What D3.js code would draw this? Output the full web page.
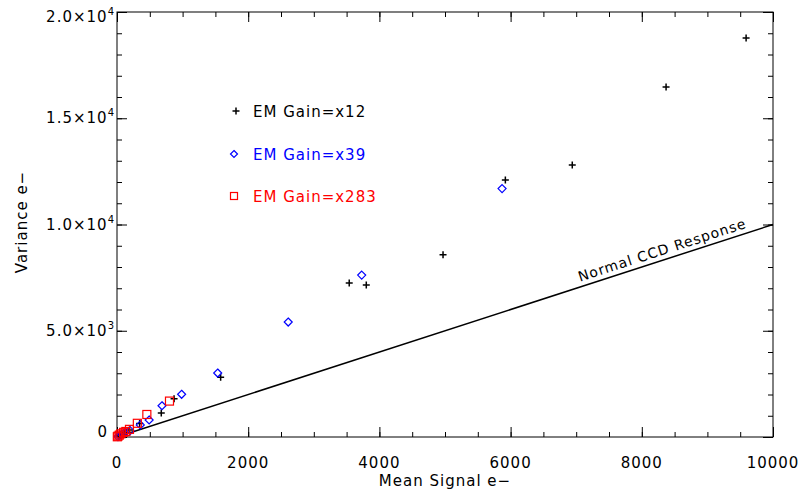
<!DOCTYPE html>
<html>
<head>
<meta charset="utf-8">
<script src="https://cdn.jsdelivr.net/npm/d3@7"></script>
<style>
  body { margin: 0; background: #fff; }
  svg { font-family: "DejaVu Sans", sans-serif; }
</style>
</head>
<body>
<div id="chart"></div>
<script>
// mean signal / variance
const gain12 = [
  [9590, 18780], [8370, 16470], [6940, 12800], [5920, 12100], [4970, 8580],
  [3800, 7150], [3540, 7250], [1580, 2810], [870, 1800], [675, 1130],
  [345, 630], [190, 330], [110, 200], [60, 110], [25, 50]
];
const gain39 = [
  [5870, 11690], [3730, 7620], [2610, 5410], [1535, 3010], [985, 2010],
  [686, 1470], [490, 800], [355, 570], [200, 300], [120, 210],
  [70, 130], [35, 60], [15, 20]
];
const gain283 = [
  [800, 1690], [455, 1060], [310, 645], [190, 360], [135, 260],
  [100, 220], [60, 150], [35, 90], [15, 40], [5, 10]
];
const legendLabels = ["EM Gain=x12", "EM Gain=x39", "EM Gain=x283"];
const xTicks = [0, 2000, 4000, 6000, 8000, 10000];
const yTicks = [0, 5000, 10000, 15000, 20000];
const yTickText = ["0", "5.0×10|3", "1.0×10|4", "1.5×10|4", "2.0×10|4"];
const ccdLine = [[0, 0], [10000, 10000]];

const width = 803, height = 495;
const margin = { left: 117, right: 30, top: 12, bottom: 58 };
const innerW = width - margin.left - margin.right;
const innerH = height - margin.top - margin.bottom;

const svg = d3.select("#chart").append("svg")
  .attr("width", width).attr("height", height);

const g = svg.append("g").attr("transform", `translate(${margin.left},${margin.top})`);

const x = d3.scaleLinear().domain([0, 10000]).range([0, innerW]);
const y = d3.scaleLinear().domain([0, 20000]).range([innerH, 0]);

// ticks on all four sides, pointing in
const xMinor = d3.range(0, 10001, 500);
const yMinor = d3.range(0, 20001, 1000);

function tickAxis(axis, el) {
  el.call(axis);
  el.select(".domain").remove();
  el.selectAll(".tick line").attr("stroke", "#000");
  el.selectAll(".tick text").remove();
}

tickAxis(d3.axisBottom(x).tickValues(xMinor).tickSize(-5), g.append("g").attr("transform", `translate(0,${innerH})`));
tickAxis(d3.axisBottom(x).tickValues(xTicks).tickSize(-10), g.append("g").attr("transform", `translate(0,${innerH})`));
tickAxis(d3.axisTop(x).tickValues(xMinor).tickSize(-5), g.append("g"));
tickAxis(d3.axisTop(x).tickValues(xTicks).tickSize(-10), g.append("g"));
tickAxis(d3.axisLeft(y).tickValues(yMinor).tickSize(-5), g.append("g"));
tickAxis(d3.axisLeft(y).tickValues(yTicks).tickSize(-10), g.append("g"));
tickAxis(d3.axisRight(y).tickValues(yMinor).tickSize(-5), g.append("g").attr("transform", `translate(${innerW},0)`));
tickAxis(d3.axisRight(y).tickValues(yTicks).tickSize(-10), g.append("g").attr("transform", `translate(${innerW},0)`));

g.append("rect")
  .attr("width", innerW).attr("height", innerH)
  .attr("fill", "none").attr("stroke", "#000").attr("stroke-width", 1);

// x tick labels
g.selectAll(".xlab").data(xTicks).join("text")
  .attr("class", "xlab")
  .attr("x", d => x(d))
  .attr("y", innerH + 31)
  .attr("text-anchor", "middle")
  .attr("font-size", 15)
  .attr("letter-spacing", 1)
  .text(d => d);

// y tick labels with exponent
yTicks.forEach((v, i) => {
  const parts = yTickText[i].split("|");
  let yy = y(v) + 5;
  if (i === 0) yy -= 5;
  if (i === yTicks.length - 1) yy += 5;
  const t = g.append("text")
    .attr("x", parts.length > 1 ? -2 : -9)
    .attr("y", yy)
    .attr("text-anchor", "end")
    .attr("font-size", 15)
    .attr("letter-spacing", 1)
    .text(parts[0]);
  if (parts.length > 1) {
    t.append("tspan")
      .attr("dy", -7)
      .attr("font-size", 10)
      .text(parts[1]);
  }
});

// axis titles
svg.append("text")
  .attr("x", margin.left + innerW / 2)
  .attr("y", 486)
  .attr("text-anchor", "middle")
  .attr("font-size", 15)
  .attr("letter-spacing", 1)
  .text("Mean Signal e\u2212");

svg.append("text")
  .attr("transform", "translate(27,222) rotate(-90)")
  .attr("text-anchor", "middle")
  .attr("font-size", 15)
  .attr("letter-spacing", 1)
  .text("Variance e\u2212");

// normal CCD response line (variance = mean)
const line = d3.line().x(d => x(d[0])).y(d => y(d[1]));
g.append("path")
  .datum(ccdLine)
  .attr("d", line)
  .attr("fill", "none")
  .attr("stroke", "#000")
  .attr("stroke-width", 1.5);

const angle = Math.atan2(y(0) - y(10000), x(10000) - x(0)) * 180 / Math.PI;
g.append("text")
  .attr("transform", `translate(${x(7080)},${y(7080)}) rotate(${-angle})`)
  .attr("dy", -5)
  .attr("font-size", 14)
  .attr("letter-spacing", 1)
  .text("Normal CCD Response");

// markers
const crossPath = "M-3.5,0H3.5M0,-3.5V3.5";
const diamondPath = "M0,-4L4,0L0,4L-4,0Z";

g.selectAll(".g12").data(gain12).join("path")
  .attr("class", "g12")
  .attr("transform", d => `translate(${x(d[0])},${y(d[1])})`)
  .attr("d", crossPath)
  .attr("stroke", "#000")
  .attr("stroke-width", 1.5);

g.selectAll(".g39").data(gain39).join("path")
  .attr("class", "g39")
  .attr("transform", d => `translate(${x(d[0])},${y(d[1])})`)
  .attr("d", diamondPath)
  .attr("fill", "none")
  .attr("stroke", "#0000ff")
  .attr("stroke-width", 1.2);

g.selectAll(".g283").data(gain283).join("rect")
  .attr("class", "g283")
  .attr("x", d => x(d[0]) - 4)
  .attr("y", d => y(d[1]) - 4)
  .attr("width", 8).attr("height", 8)
  .attr("fill", "none")
  .attr("stroke", "#ff0000")
  .attr("stroke-width", 1.2);

// legend
const legendColors = ["#000", "#0000ff", "#ff0000"];
const legendY = [111, 154, 196];
const legend = svg.append("g");
legendLabels.forEach((lab, i) => {
  const cy = legendY[i];
  if (i === 0) {
    legend.append("path").attr("transform", `translate(236,${cy})`)
      .attr("d", crossPath).attr("stroke", "#000").attr("stroke-width", 1.5);
  } else if (i === 1) {
    legend.append("path").attr("transform", `translate(234,${cy})`)
      .attr("d", "M0,-3.5L3.5,0L0,3.5L-3.5,0Z").attr("fill", "none")
      .attr("stroke", legendColors[i]).attr("stroke-width", 1.2);
  } else {
    legend.append("rect").attr("x", 230.5).attr("y", cy - 3.5)
      .attr("width", 7).attr("height", 7).attr("fill", "none")
      .attr("stroke", legendColors[i]).attr("stroke-width", 1.2);
  }
  legend.append("text")
    .attr("x", 253).attr("y", cy + 6)
    .attr("font-size", 15)
    .attr("letter-spacing", 1)
    .attr("fill", legendColors[i])
    .text(lab);
});
</script>
</body>
</html>
